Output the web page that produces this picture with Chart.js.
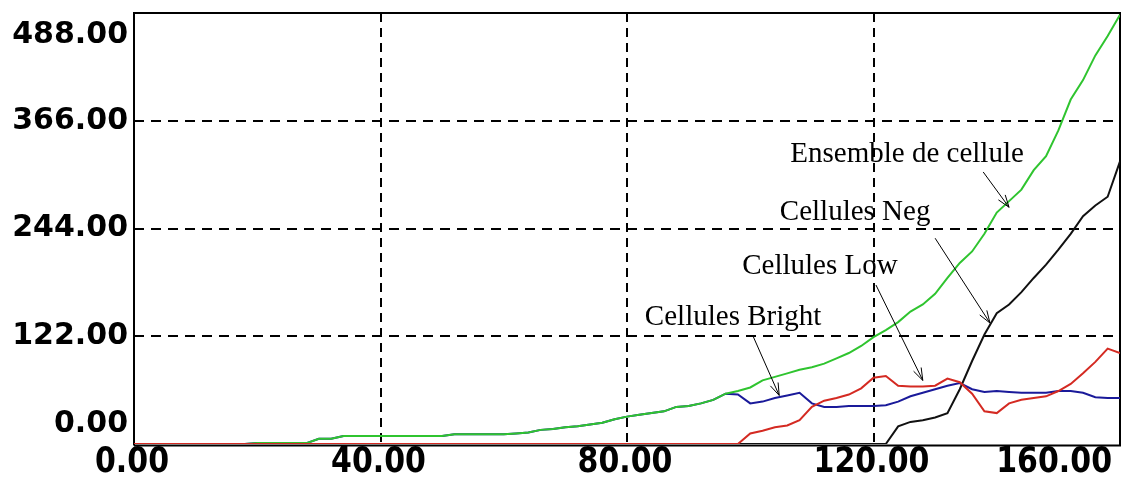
<!DOCTYPE html>
<html>
<head>
<meta charset="utf-8">
<title>Évolution des populations cellulaires</title>
<script src="https://cdn.jsdelivr.net/npm/chart.js@4/dist/chart.umd.min.js"></script>
<style>
  html, body { margin: 0; padding: 0; background: #ffffff; }
  #wrap { width: 1123px; height: 480px; }
</style>
</head>
<body>
<div id="wrap"><canvas id="c" width="1123" height="480"></canvas></div>
<script>
// Abscissa (time steps) shared by every series
const xValues = [
  0, 2, 4, 6, 8, 10, 12, 14, 16, 18,
  20, 22, 24, 26, 28, 30, 32, 34, 36, 38,
  40, 42, 44, 46, 48, 50, 52, 54, 56, 58,
  60, 62, 64, 66, 68, 70, 72, 74, 76, 78,
  80, 82, 84, 86, 88, 90, 92, 94, 96, 98,
  100, 102, 104, 106, 108, 110, 112, 114, 116, 118,
  120, 122, 124, 126, 128, 130, 132, 134, 136, 138,
  140, 142, 144, 146, 148, 150, 152, 154, 156, 158,
  160
];

// Ensemble de cellule
const ensemble = [
  0, 0, 0, 0, 0, 0, 0, 0, 0, 0,
  1, 1, 1, 1, 1, 6, 6, 9, 9, 9,
  9, 9, 9, 9, 9, 9, 11, 11, 11, 11,
  11, 12, 13, 16, 17, 19, 20, 22, 24, 28,
  31, 33, 35, 37, 42, 43, 46, 50, 57, 60,
  64, 72, 76, 80, 84, 87, 91, 97, 103, 111,
  121, 129, 138, 150, 158, 170, 188, 205, 218, 238,
  262, 275, 288, 310, 326, 355, 390, 412, 440, 462,
  486
];

// Cellules Bright
const bright = [
  0, 0, 0, 0, 0, 0, 0, 0, 0, 0,
  1, 1, 1, 1, 1, 6, 6, 9, 9, 9,
  9, 9, 9, 9, 9, 9, 11, 11, 11, 11,
  11, 12, 13, 16, 17, 19, 20, 22, 24, 28,
  31, 33, 35, 37, 42, 43, 46, 50, 57, 56,
  46, 48, 52, 55, 58, 46, 42, 42, 43, 43,
  43, 44, 48, 54, 58, 62, 66, 69, 62, 59,
  60, 59, 58, 58, 58, 60, 60, 58, 53, 52,
  52
];

// Cellules Low
const low = [
  0, 0, 0, 0, 0, 0, 0, 0, 0, 0,
  0, 0, 0, 0, 0, 0, 0, 0, 0, 0,
  0, 0, 0, 0, 0, 0, 0, 0, 0, 0,
  0, 0, 0, 0, 0, 0, 0, 0, 0, 0,
  0, 0, 0, 0, 0, 0, 0, 0, 0, 0,
  12, 15, 19, 21, 27, 42, 49, 52, 56, 63,
  75, 77, 66, 65, 65, 66, 74, 70, 57, 37,
  35, 46, 50, 52, 54, 60, 68, 80, 93, 108,
  103
];

// Cellules Neg
const neg = [
  0, 0, 0, 0, 0, 0, 0, 0, 0, 0,
  0, 0, 0, 0, 0, 0, 0, 0, 0, 0,
  0, 0, 0, 0, 0, 0, 0, 0, 0, 0,
  0, 0, 0, 0, 0, 0, 0, 0, 0, 0,
  0, 0, 0, 0, 0, 0, 0, 0, 0, 0,
  0, 0, 0, 0, 0, 0, 0, 0, 0, 0,
  0, 0, 20, 25, 27, 30, 35, 62, 94, 124,
  148, 158, 172, 188, 203, 220, 238, 258, 270, 280,
  320
];

// Axis tick values
const xTicks = [0, 40, 80, 120, 160];
const yTicks = [0, 122, 244, 366, 488];

// Callout labels: text position and arrow (start -> tip), in data units
const callouts = [
  { text: 'Ensemble de cellule', x: 106.5, y: 319, from: [137.8, 308], to: [142.0, 268] },
  { text: 'Cellules Neg',        x: 104.8, y: 254, from: [130.0, 233], to: [138.9, 137] },
  { text: 'Cellules Low',        x: 98.7,  y: 192, from: [120.4, 180], to: [128.0, 72] },
  { text: 'Cellules Bright',     x: 82.9,  y: 135, from: [100.4, 123], to: [104.7, 55] }
];

const pts = s => xValues.map((x, i) => ({ x: x, y: s[i] }));

// Plot frame, drawn under the curves
const framePlugin = {
  id: 'frame',
  beforeDatasetsDraw(chart) {
    const { ctx, chartArea: a } = chart;
    ctx.save();
    ctx.strokeStyle = '#000';
    ctx.lineWidth = 2;
    ctx.beginPath();
    ctx.moveTo(a.left, a.bottom + 1.5);
    ctx.lineTo(a.left, a.top);
    ctx.lineTo(a.right, a.top);
    ctx.lineTo(a.right, a.bottom + 1.5);
    ctx.lineTo(a.left, a.bottom + 1.5);
    ctx.stroke();
    ctx.restore();
  }
};

// Tick labels, kept inside the frame's extent at the ends
const tickLabelPlugin = {
  id: 'tickLabels',
  afterDraw(chart) {
    const { ctx, chartArea: a } = chart;
    const xs = chart.scales.x, ys = chart.scales.y;
    ctx.save();
    ctx.fillStyle = '#000';
    ctx.font = 'bold 30px "DejaVu Sans"';
    ctx.textAlign = 'right';
    ctx.textBaseline = 'middle';
    yTicks.forEach(v => {
      let py = ys.getPixelForValue(v);
      py = Math.min(Math.max(py, a.top + 22), a.bottom - 20);
      ctx.fillText(v.toFixed(2), a.left - 6, py);
    });
    ctx.textAlign = 'left';
    xTicks.forEach(v => {
      const t = v.toFixed(2);
      const w = ctx.measureText(t).width;
      let left = xs.getPixelForValue(v) - w / 2 - 2;
      if (left + w > a.right - 8) left = a.right - 8 - w;
      ctx.save();
      ctx.translate(left, a.bottom + 19);
      ctx.scale(1, 1.2);
      ctx.fillText(t, 0, 0);
      ctx.restore();
    });
    ctx.restore();
  }
};

// Callout texts with thin arrows
const calloutPlugin = {
  id: 'callouts',
  afterDatasetsDraw(chart) {
    const { ctx } = chart;
    const xs = chart.scales.x, ys = chart.scales.y;
    ctx.save();
    ctx.fillStyle = '#000';
    ctx.strokeStyle = '#000';
    ctx.lineWidth = 1;
    ctx.font = '29px "Liberation Serif"';
    ctx.textAlign = 'left';
    ctx.textBaseline = 'alphabetic';
    callouts.forEach(c => {
      ctx.fillText(c.text, xs.getPixelForValue(c.x), ys.getPixelForValue(c.y));
      const x1 = xs.getPixelForValue(c.from[0]), y1 = ys.getPixelForValue(c.from[1]);
      const x2 = xs.getPixelForValue(c.to[0]),   y2 = ys.getPixelForValue(c.to[1]);
      ctx.beginPath();
      ctx.moveTo(x1, y1);
      ctx.lineTo(x2, y2);
      const ang = Math.atan2(y2 - y1, x2 - x1);
      const len = 13, spread = 0.33;
      ctx.moveTo(x2 - len * Math.cos(ang - spread), y2 - len * Math.sin(ang - spread));
      ctx.lineTo(x2, y2);
      ctx.lineTo(x2 - len * Math.cos(ang + spread), y2 - len * Math.sin(ang + spread));
      ctx.stroke();
    });
    ctx.restore();
  }
};

const lineStyle = { borderWidth: 2, pointRadius: 0, tension: 0, fill: false };

// Interior grid lines only; the frame takes the outer edges
const innerGrid = (min, max) => ctx =>
  (ctx.tick && (ctx.tick.value === min || ctx.tick.value === max)) ? 'rgba(0,0,0,0)' : '#000';

new Chart(document.getElementById('c'), {
  type: 'line',
  data: {
    datasets: [
      Object.assign({ label: 'Cellules Low', data: pts(low), borderColor: '#d42a22' }, lineStyle),
      Object.assign({ label: 'Ensemble de cellule', data: pts(ensemble), borderColor: '#2fc42f' }, lineStyle),
      Object.assign({ label: 'Cellules Neg', data: pts(neg), borderColor: '#111111' }, lineStyle),
      Object.assign({ label: 'Cellules Bright', data: pts(bright), borderColor: '#1a1a9a' }, lineStyle)
    ]
  },
  options: {
    responsive: false,
    maintainAspectRatio: false,
    animation: false,
    devicePixelRatio: 1,
    layout: { padding: { left: 134, top: 13, right: 3, bottom: 36 } },
    plugins: { legend: { display: false }, tooltip: { enabled: false } },
    scales: {
      x: {
        type: 'linear',
        min: 0, max: 160,
        afterBuildTicks: s => { s.ticks = xTicks.map(v => ({ value: v })); },
        ticks: { display: false },
        grid: { color: innerGrid(0, 160), lineWidth: 2, drawTicks: false },
        border: { display: false, dash: [9, 6] }
      },
      y: {
        type: 'linear',
        min: 0, max: 488,
        afterBuildTicks: s => { s.ticks = yTicks.map(v => ({ value: v })); },
        ticks: { display: false },
        grid: { color: innerGrid(0, 488), lineWidth: 2, drawTicks: false },
        border: { display: false, dash: [10, 7] }
      }
    }
  },
  plugins: [framePlugin, calloutPlugin, tickLabelPlugin]
});
</script>
</body>
</html>
